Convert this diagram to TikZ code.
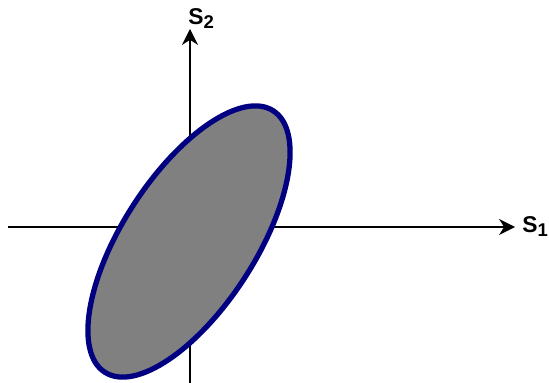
\documentclass[tikz,border=0pt]{standalone}
\usepackage{fontspec}
\setmainfont{Liberation Sans}
\usetikzlibrary{arrows.meta, positioning}

\tikzset{
    axis/.style={-{Stealth[length=0.32cm, width=0.32cm]}, line width=0.9pt},
    axislabel/.style={inner sep=0pt, font=\fontsize{13}{15}\selectfont\bfseries},
}
\newcommand{\sublabel}[1]{S\raisebox{-0.25ex}{\fontsize{10.5}{12}\selectfont #1}}
\definecolor{ellipseline}{RGB}{0,0,128}
\definecolor{ellipsefill}{RGB}{128,128,128}

\begin{document}
\begin{tikzpicture}
        \useasboundingbox (0,0) rectangle (10.98,7.66);

        \coordinate (xl) at (0.16,3.12);
        \coordinate (xr) at (10.30,3.12);
        \coordinate (yb) at (3.80,0);
        \coordinate (yt) at (3.80,7.08);

        \draw[axis] (xl) -- (xr);
        \draw[axis] (yb) -- (yt);

        % shaded region
        \draw[ellipseline, fill=ellipsefill, line width=3pt, rotate around={57.2:(3.78,2.83)}]
            (3.78,2.83) ellipse (3.11cm and 1.33cm);

        \node[axislabel, anchor=base west] (s1) at (10.44,3.00) {\sublabel{1}};
        \node[axislabel, anchor=base west] (s2) at (3.76,7.16) {\sublabel{2}};
    \end{tikzpicture}
\end{document}
